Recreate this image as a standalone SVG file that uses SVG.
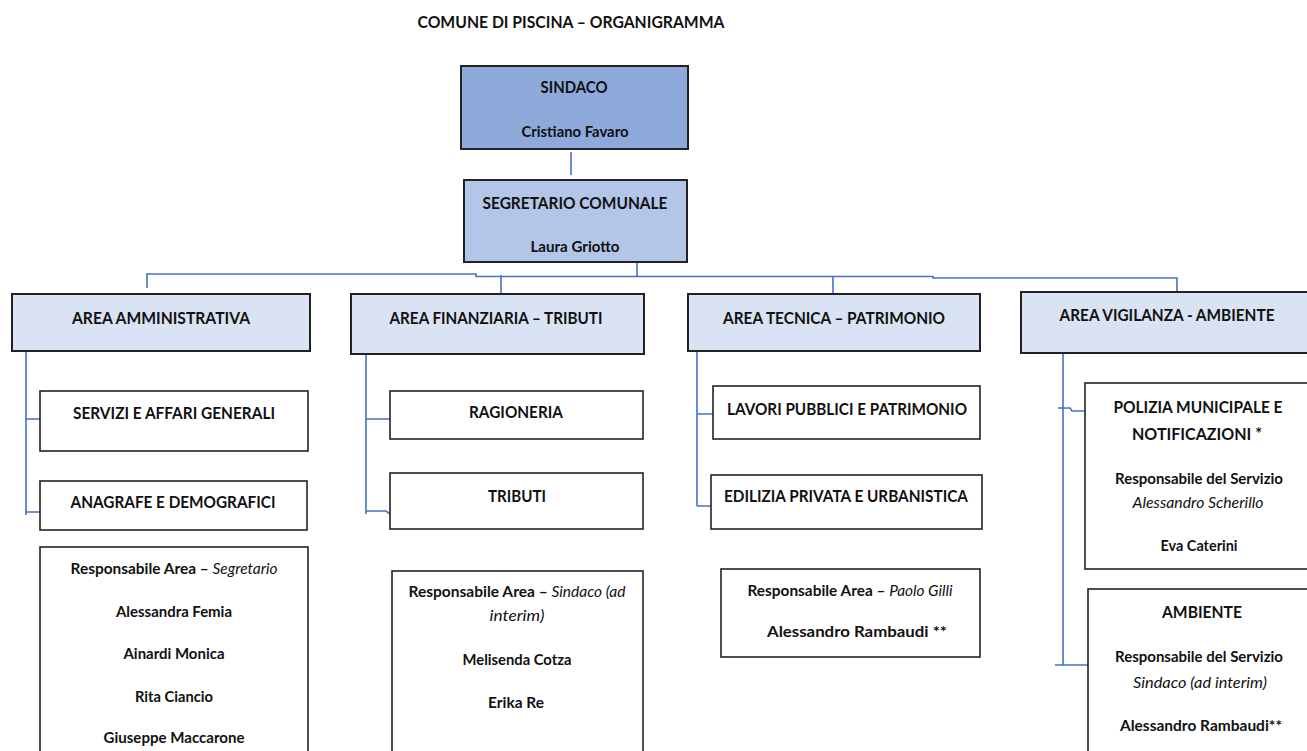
<svg xmlns="http://www.w3.org/2000/svg" width="1307" height="751" viewBox="0 0 1307 751">
<style>
text{font-family:Lato,"Noto Sans","Liberation Sans",sans-serif;font-weight:bold;fill:#111;text-anchor:middle}
.h{font-size:17px}
.n{font-size:15px}
.t{font-size:17px}
.i{font-style:italic;font-weight:normal}
.box{fill:#fff;stroke:#222;stroke-width:1.6}
.b1{fill:#8eaadb;stroke:#222;stroke-width:2}
.b2{fill:#b4c6e7;stroke:#222;stroke-width:2}
.b3{fill:#dae3f3;stroke:#222;stroke-width:2}
.c{fill:none;stroke:#4472c4;stroke-width:1.6}
</style>
<rect width="1307" height="751" fill="#fff"/>
<text class="t" x="571" y="28" textLength="307" lengthAdjust="spacingAndGlyphs">COMUNE DI PISCINA – ORGANIGRAMMA</text>

<g id="connectors">
<path class="c" d="M571,152V175"/>
<path class="c" d="M637,262V277"/>
<path class="c" d="M147,288V274H476V276.5H933V278H1177V292"/>
<path class="c" d="M501,275V294"/>
<path class="c" d="M833,277V297"/>
<path class="c" d="M26,351V515M26,419H40M26,512H40"/>
<path class="c" d="M366,352V514M366,419H390M366,511H386L390,514"/>
<path class="c" d="M697,351V506M697,414H713M697,506H711"/>
<path class="c" d="M1063,353V665M1058,408H1070L1072,411H1085M1055,665H1088"/>
</g>

<g id="sindaco">
<rect class="b1" x="461" y="66" width="227" height="83"/>
<text class="h" x="574" y="93" textLength="67" lengthAdjust="spacingAndGlyphs">SINDACO</text>
<text class="n" x="575" y="137" textLength="107" lengthAdjust="spacingAndGlyphs">Cristiano Favaro</text>
</g>

<g id="segretario">
<rect class="b2" x="464" y="180" width="223" height="82"/>
<text class="h" x="575" y="209" textLength="185" lengthAdjust="spacingAndGlyphs">SEGRETARIO COMUNALE</text>
<text class="n" x="575" y="252" textLength="89" lengthAdjust="spacingAndGlyphs">Laura Griotto</text>
</g>

<g id="area-amministrativa">
<rect class="b3" x="12" y="294" width="298" height="57"/>
<text class="h" x="161" y="324" textLength="178" lengthAdjust="spacingAndGlyphs">AREA AMMINISTRATIVA</text>
</g>
<g id="area-finanziaria">
<rect class="b3" x="351" y="294" width="293" height="60"/>
<text class="h" x="496" y="324" textLength="213" lengthAdjust="spacingAndGlyphs">AREA FINANZIARIA – TRIBUTI</text>
</g>
<g id="area-tecnica">
<rect class="b3" x="688" y="294" width="292" height="57"/>
<text class="h" x="834" y="324" textLength="222" lengthAdjust="spacingAndGlyphs">AREA TECNICA – PATRIMONIO</text>
</g>
<g id="area-vigilanza">
<rect class="b3" x="1021" y="292" width="292" height="61"/>
<text class="h" x="1167" y="321" textLength="215" lengthAdjust="spacingAndGlyphs">AREA VIGILANZA - AMBIENTE</text>
</g>

<g id="servizi">
<rect class="box" x="40" y="391" width="268" height="60"/>
<text class="h" x="174" y="419" textLength="202" lengthAdjust="spacingAndGlyphs">SERVIZI E AFFARI GENERALI</text>
</g>
<g id="anagrafe">
<rect class="box" x="40" y="481" width="267" height="49"/>
<text class="h" x="173" y="508" textLength="205" lengthAdjust="spacingAndGlyphs">ANAGRAFE E DEMOGRAFICI</text>
</g>
<g id="resp-amministrativa">
<rect class="box" x="40" y="547" width="268" height="215"/>
<text class="n" x="174" y="574" textLength="207" lengthAdjust="spacingAndGlyphs">Responsabile Area – <tspan class="i">Segretario</tspan></text>
<text class="n" x="174" y="617" textLength="116" lengthAdjust="spacingAndGlyphs">Alessandra Femia</text>
<text class="n" x="174" y="659" textLength="101" lengthAdjust="spacingAndGlyphs">Ainardi Monica</text>
<text class="n" x="174" y="702" textLength="78" lengthAdjust="spacingAndGlyphs">Rita Ciancio</text>
<text class="n" x="174" y="743" textLength="141" lengthAdjust="spacingAndGlyphs">Giuseppe Maccarone</text>
</g>

<g id="ragioneria">
<rect class="box" x="390" y="391" width="253" height="48"/>
<text class="h" x="516" y="418" textLength="94" lengthAdjust="spacingAndGlyphs">RAGIONERIA</text>
</g>
<g id="tributi">
<rect class="box" x="390" y="473" width="253" height="56"/>
<text class="h" x="517" y="502" textLength="58" lengthAdjust="spacingAndGlyphs">TRIBUTI</text>
</g>
<g id="resp-finanziaria">
<rect class="box" x="392" y="571" width="251" height="191"/>
<text class="n" x="517" y="597" textLength="217" lengthAdjust="spacingAndGlyphs">Responsabile Area – <tspan class="i">Sindaco (ad</tspan></text>
<text class="n i" x="517" y="621" textLength="55" lengthAdjust="spacingAndGlyphs">interim)</text>
<text class="n" x="517" y="665" textLength="109" lengthAdjust="spacingAndGlyphs">Melisenda Cotza</text>
<text class="n" x="516" y="708" textLength="56" lengthAdjust="spacingAndGlyphs">Erika Re</text>
</g>

<g id="lavori-pubblici">
<rect class="box" x="713" y="386" width="267" height="53"/>
<text class="h" x="847" y="415" textLength="240" lengthAdjust="spacingAndGlyphs">LAVORI PUBBLICI E PATRIMONIO</text>
</g>
<g id="edilizia">
<rect class="box" x="711" y="475" width="271" height="54"/>
<text class="h" x="846" y="502" textLength="244" lengthAdjust="spacingAndGlyphs">EDILIZIA PRIVATA E URBANISTICA</text>
</g>
<g id="resp-tecnica">
<rect class="box" x="721" y="569" width="259" height="88"/>
<text class="n" x="850" y="596" textLength="205" lengthAdjust="spacingAndGlyphs">Responsabile Area – <tspan class="i">Paolo Gilli</tspan></text>
<text class="n" x="857" y="637" textLength="180" lengthAdjust="spacingAndGlyphs">Alessandro Rambaudi **</text>
</g>

<g id="polizia">
<rect class="box" x="1085" y="383" width="228" height="186"/>
<text class="h" x="1198" y="413" textLength="169" lengthAdjust="spacingAndGlyphs">POLIZIA MUNICIPALE E</text>
<text class="h" x="1197" y="440" textLength="130" lengthAdjust="spacingAndGlyphs">NOTIFICAZIONI *</text>
<text class="n" x="1199" y="484" textLength="168" lengthAdjust="spacingAndGlyphs">Responsabile del Servizio</text>
<text class="n i" x="1198" y="508" textLength="131" lengthAdjust="spacingAndGlyphs">Alessandro Scherillo</text>
<text class="n" x="1199" y="551" textLength="77" lengthAdjust="spacingAndGlyphs">Eva Caterini</text>
</g>
<g id="ambiente">
<rect class="box" x="1088" y="589" width="225" height="173"/>
<text class="h" x="1202" y="618" textLength="80" lengthAdjust="spacingAndGlyphs">AMBIENTE</text>
<text class="n" x="1199" y="662" textLength="168" lengthAdjust="spacingAndGlyphs">Responsabile del Servizio</text>
<text class="n i" x="1200" y="688" textLength="134" lengthAdjust="spacingAndGlyphs">Sindaco (ad interim)</text>
<text class="n" x="1201" y="731" textLength="162" lengthAdjust="spacingAndGlyphs">Alessandro Rambaudi**</text>
</g>
</svg>
